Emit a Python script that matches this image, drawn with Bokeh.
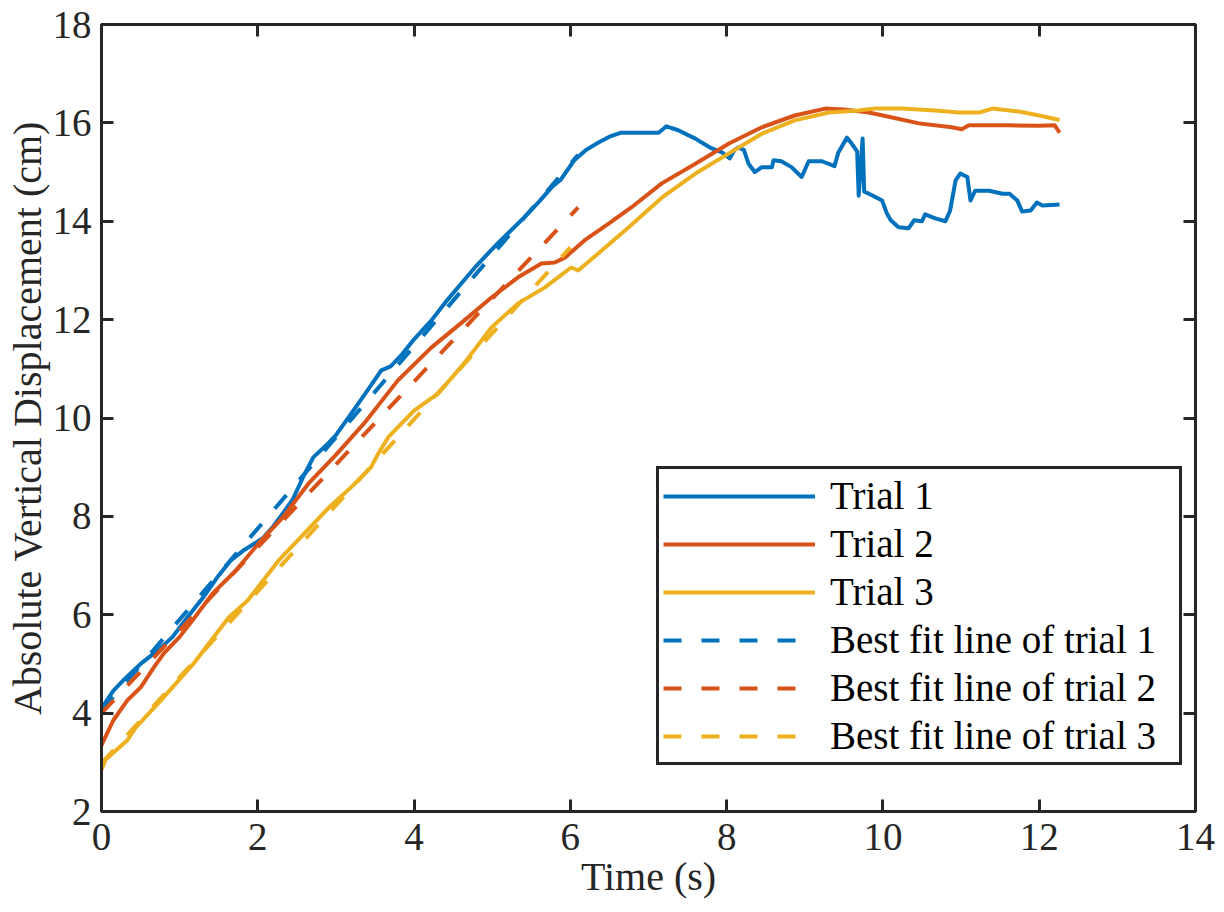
from bokeh.plotting import figure
from bokeh.models import Range1d, FixedTicker, LinearAxis, Legend
from bokeh.embed import file_html
from bokeh.resources import INLINE

# ---- data ----
t1 = [0, 0.15, 0.3, 0.5, 0.7, 0.91, 1.1, 1.3, 1.5, 1.65, 1.81, 2.06, 2.2, 2.32, 2.45, 2.58, 2.71, 2.91,
      3.0, 3.2, 3.4, 3.58, 3.7, 3.85, 4.0, 4.22, 4.4, 4.64, 4.8, 5.07, 5.2, 5.41, 5.6, 5.76, 5.88, 6.05,
      6.2, 6.36, 6.5, 6.65, 6.91, 7.13, 7.23, 7.38, 7.6, 7.68, 7.81, 7.94, 8.04, 8.1, 8.15, 8.22, 8.28,
      8.36, 8.45, 8.58, 8.6, 8.7, 8.83, 8.96, 9.05, 9.22, 9.38, 9.43, 9.54, 9.6, 9.67, 9.69, 9.72, 9.74,
      9.76, 9.82, 9.99, 10.05, 10.1, 10.2, 10.33, 10.4, 10.5, 10.54, 10.67, 10.8, 10.86, 10.93, 10.99,
      11.08, 11.12, 11.18, 11.36, 11.53, 11.62, 11.72, 11.78, 11.89, 11.97, 12.04, 12.26]
y1 = [4.1, 4.45, 4.7, 5.0, 5.25, 5.55, 5.95, 6.35, 6.8, 7.1, 7.3, 7.55, 7.8, 8.06, 8.35, 8.8, 9.2, 9.5,
      9.65, 10.1, 10.55, 10.97, 11.05, 11.3, 11.6, 11.98, 12.35, 12.8, 13.1, 13.55, 13.75, 14.08, 14.4,
      14.69, 14.85, 15.24, 15.45, 15.6, 15.72, 15.8, 15.8, 15.8, 15.93, 15.85, 15.68, 15.6, 15.48, 15.4,
      15.28, 15.45, 15.5, 15.45, 15.17, 15.0, 15.1, 15.1, 15.24, 15.22, 15.1, 14.9, 15.22, 15.22, 15.12,
      15.4, 15.7, 15.58, 15.42, 14.52, 15.2, 15.68, 14.6, 14.56, 14.42, 14.16, 14.02, 13.88, 13.86, 14.02,
      14.0, 14.14, 14.06, 14.0, 14.22, 14.83, 14.97, 14.9, 14.42, 14.62, 14.62, 14.56, 14.56, 14.42, 14.2,
      14.22, 14.38, 14.32, 14.34]

t2 = [0, 0.15, 0.33, 0.5, 0.67, 0.8, 1.0, 1.18, 1.42, 1.72, 2.01, 2.32, 2.65, 3.0, 3.36, 3.79, 4.22,
      4.64, 4.99, 5.33, 5.63, 5.8, 5.93, 6.18, 6.49, 6.78, 7.17, 7.6, 8.03, 8.45, 8.87, 9.26, 9.5, 9.82,
      10.12, 10.46, 10.88, 11.01, 11.1, 11.23, 11.6, 12.0, 12.2, 12.26]
y2 = [3.35, 3.85, 4.26, 4.52, 4.93, 5.22, 5.55, 5.92, 6.43, 6.9, 7.45, 7.98, 8.67, 9.25, 9.89, 10.76,
      11.43, 11.98, 12.45, 12.86, 13.14, 13.16, 13.26, 13.61, 13.95, 14.28, 14.77, 15.17, 15.58, 15.91,
      16.15, 16.29, 16.27, 16.21, 16.11, 15.99, 15.91, 15.87, 15.95, 15.95, 15.95, 15.94, 15.95, 15.8]

t3 = [0, 0.05, 0.33, 0.44, 0.76, 0.99, 1.18, 1.63, 1.87, 2.27, 2.91, 3.2, 3.45, 3.55, 3.67, 4.0, 4.31,
      4.64, 4.99, 5.33, 5.67, 6.01, 6.1, 6.36, 6.74, 7.17, 7.6, 8.03, 8.45, 8.87, 9.31, 9.69, 9.9, 10.24,
      10.67, 10.97, 11.23, 11.4, 11.74, 12.0, 12.26]
y3 = [2.85, 3.05, 3.45, 3.71, 4.26, 4.67, 5.01, 5.95, 6.29, 7.11, 8.18, 8.6, 9.0, 9.3, 9.61, 10.15,
      10.5, 11.11, 11.84, 12.33, 12.65, 13.06, 13.0, 13.35, 13.87, 14.48, 14.97, 15.38, 15.78, 16.05,
      16.21, 16.25, 16.29, 16.29, 16.25, 16.21, 16.21, 16.29, 16.23, 16.15, 16.06]

fit1_t = [0, 6.1]
fit1_y = [4.05, 15.35]
fit2_t = [0, 6.1]
fit2_y = [4.0, 14.28]
fit3_t = [0, 6.0]
fit3_y = [2.98, 13.47]

x_ticks = [0, 2, 4, 6, 8, 10, 12, 14]
y_ticks = [2, 4, 6, 8, 10, 12, 14, 16, 18]

x_label = "Time (s)"
y_label = "Absolute Vertical Displacement (cm)"
labels = ["Trial 1", "Trial 2", "Trial 3",
          "Best fit line of trial 1", "Best fit line of trial 2", "Best fit line of trial 3"]
colors = ["#0072BD", "#D95319", "#EDB120"]

FONT = "Liberation Serif"
AX = "#262626"

W, H = 1220, 912
p = figure(width=W, height=H, output_backend="svg", toolbar_location=None,
           x_range=Range1d(0, 14), y_range=Range1d(2, 18),
           min_border_left=101, min_border_right=W - 1195, min_border_top=24,
           min_border_bottom=H - 811,
           x_axis_label=x_label, y_axis_label=y_label)
p.grid.visible = False
p.outline_line_color = AX
p.outline_line_width = 3
p.background_fill_color = "white"
p.border_fill_color = "white"

for ax, ticks in ((p.xaxis[0], x_ticks), (p.yaxis[0], y_ticks)):
    ax.ticker = FixedTicker(ticks=ticks)
    ax.axis_line_color = AX
    ax.axis_line_width = 3
    ax.major_tick_line_color = AX
    ax.major_tick_line_width = 3
    ax.major_tick_in = 12
    ax.major_tick_out = 0
    ax.minor_tick_line_color = None
    ax.major_label_text_font = FONT
    ax.major_label_text_font_size = "39px"
    ax.major_label_text_color = AX
    ax.axis_label_text_font = FONT
    ax.axis_label_text_font_size = "40px"
    ax.axis_label_text_font_style = "normal"
    ax.axis_label_text_color = AX
    ax.axis_label_standoff = 0
p.xaxis[0].major_label_standoff = 12
p.xaxis[0].axis_label_standoff = 1
p.yaxis[0].major_label_standoff = 10

# mirrored axes (ticks only) on top and right
for loc, ticks in (("above", x_ticks), ("right", y_ticks)):
    ax = LinearAxis(ticker=FixedTicker(ticks=ticks))
    ax.axis_line_color = AX
    ax.axis_line_width = 3
    ax.major_tick_line_color = AX
    ax.major_tick_line_width = 3
    ax.major_tick_in = 12
    ax.major_tick_out = 0
    ax.minor_tick_line_color = None
    ax.major_label_overrides = {t: "" for t in ticks}
    ax.major_label_text_color = None
    ax.major_label_standoff = 0
    p.add_layout(ax, loc)

renderers = []
for tt, yy, c in ((t1, y1, colors[0]), (t2, y2, colors[1]), (t3, y3, colors[2])):
    r = p.line(tt, yy, line_color=c, line_width=4, line_join="round")
    renderers.append(r)
for tt, yy, c in ((fit1_t, fit1_y, colors[0]), (fit2_t, fit2_y, colors[1]), (fit3_t, fit3_y, colors[2])):
    r = p.line(tt, yy, line_color=c, line_width=4, line_dash="18 20")
    renderers.append(r)

legend = Legend(items=[(lab, [r]) for lab, r in zip(labels, renderers)],
                location=(555, 46), orientation="vertical")
legend.border_line_color = AX
legend.border_line_width = 3
legend.border_line_alpha = 1
legend.background_fill_color = "white"
legend.background_fill_alpha = 1
legend.label_text_font = FONT
legend.label_text_font_size = "39px"
legend.label_text_color = "black"
legend.glyph_width = 152
legend.glyph_height = 44
legend.label_height = 44
legend.label_width = 345
legend.label_standoff = 15
legend.spacing = 3
legend.padding = 4
legend.margin = 0
p.add_layout(legend, "center")

open("out.html", "w").write(file_html(p, INLINE))
